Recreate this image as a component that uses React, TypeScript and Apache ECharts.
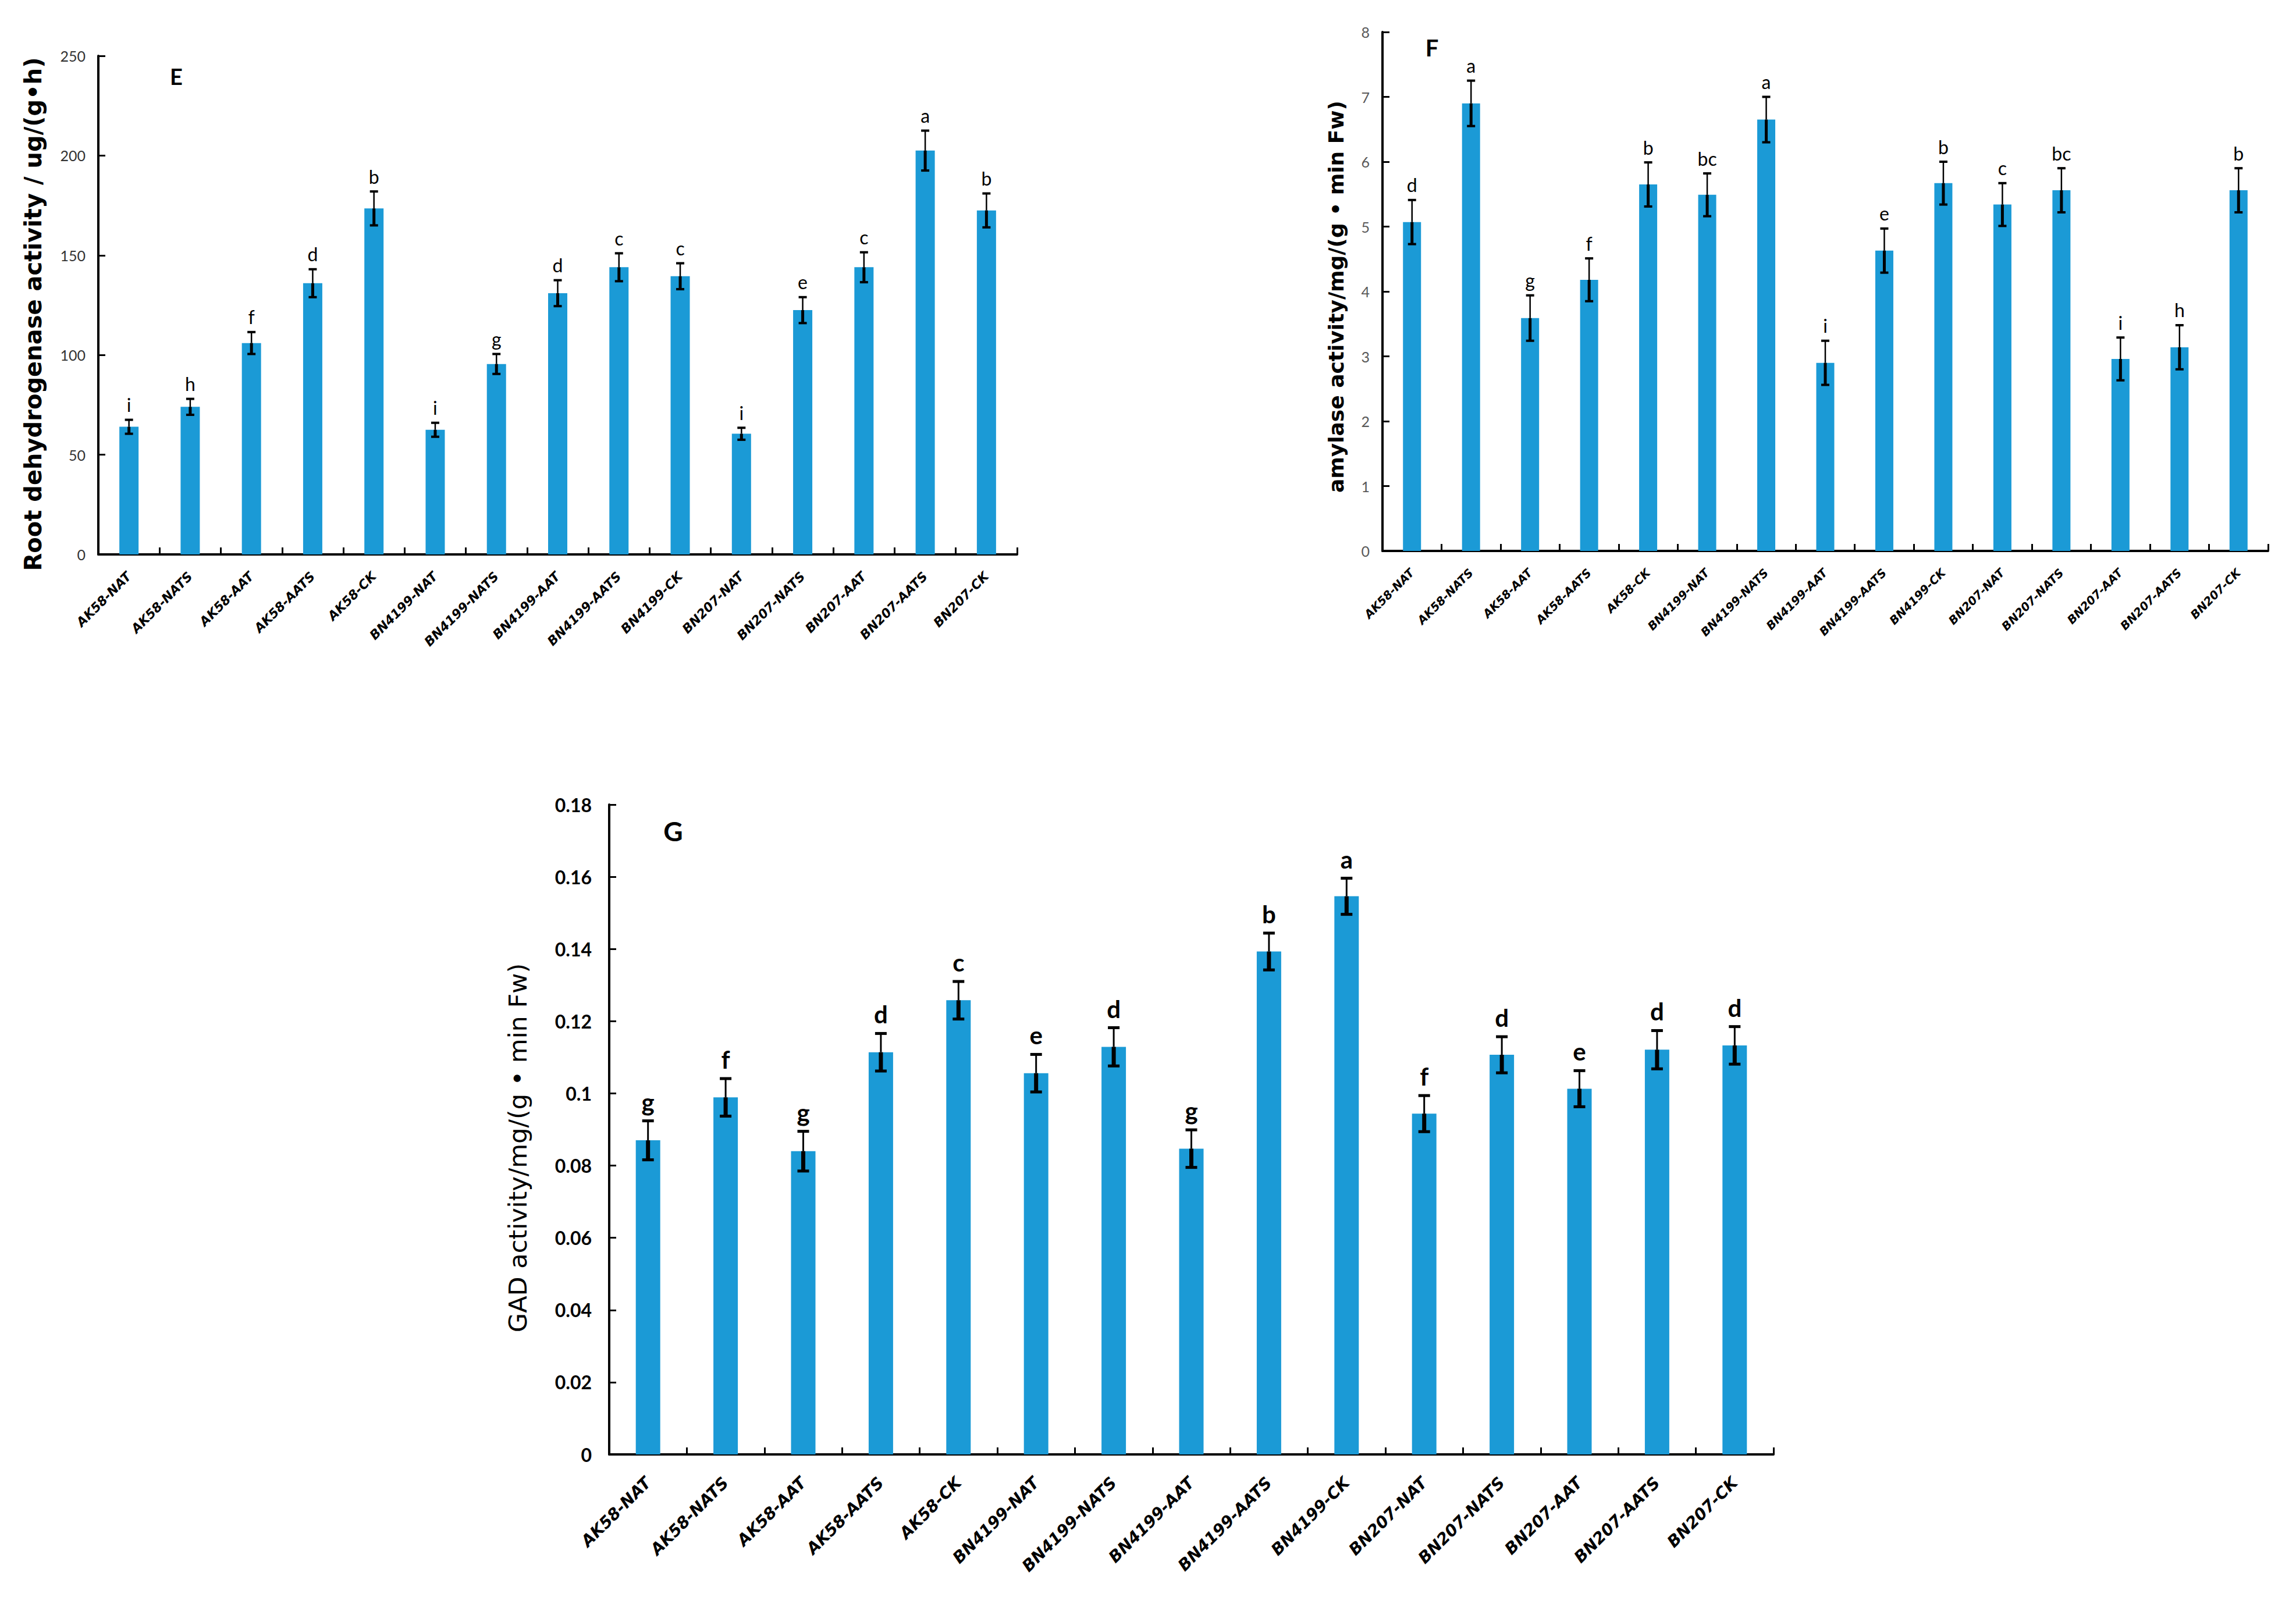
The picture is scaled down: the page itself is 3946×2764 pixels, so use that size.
import React, { useEffect, useRef } from 'react';
import * as echarts from 'echarts';

const categories = [
  'AK58-NAT', 'AK58-NATS', 'AK58-AAT', 'AK58-AATS', 'AK58-CK',
  'BN4199-NAT', 'BN4199-NATS', 'BN4199-AAT', 'BN4199-AATS', 'BN4199-CK',
  'BN207-NAT', 'BN207-NATS', 'BN207-AAT', 'BN207-AATS', 'BN207-CK',
];

const rootValues = [64, 74, 106, 136, 173.5, 62.5, 95.5, 131, 144, 139.5, 60.5, 122.5, 144, 202.5, 172.5];
const rootErrors = [3.5, 4, 5.5, 7, 8.5, 3.5, 5, 6.5, 7, 6.5, 3, 6.5, 7.5, 10, 8.5];
const rootLetters = ['i', 'h', 'f', 'd', 'b', 'i', 'g', 'd', 'c', 'c', 'i', 'e', 'c', 'a', 'b'];
const rootTicks = [0, 50, 100, 150, 200, 250];

const amylaseValues = [5.07, 6.9, 3.59, 4.18, 5.65, 5.49, 6.65, 2.9, 4.63, 5.67, 5.34, 5.56, 2.96, 3.14, 5.56];
const amylaseErrors = [0.34, 0.35, 0.35, 0.33, 0.34, 0.33, 0.35, 0.34, 0.34, 0.33, 0.33, 0.34, 0.33, 0.34, 0.34];
const amylaseLetters = ['d', 'a', 'g', 'f', 'b', 'bc', 'a', 'i', 'e', 'b', 'c', 'bc', 'i', 'h', 'b'];
const amylaseTicks = [0, 1, 2, 3, 4, 5, 6, 7, 8];

const gadValues = [0.087, 0.0989, 0.084, 0.1114, 0.1258, 0.1056, 0.1129, 0.0847, 0.1393, 0.1546, 0.0944, 0.1107, 0.1013, 0.1121, 0.1133];
const gadErrors = [0.0054, 0.0052, 0.0055, 0.0052, 0.0052, 0.0052, 0.0053, 0.0052, 0.0051, 0.005, 0.005, 0.005, 0.005, 0.0053, 0.0052];
const gadLetters = ['g', 'f', 'g', 'd', 'c', 'e', 'd', 'g', 'b', 'a', 'f', 'd', 'e', 'd', 'd'];
const gadTicks = [0, 0.02, 0.04, 0.06, 0.08, 0.1, 0.12, 0.14, 0.16, 0.18];

const BAR_COLOR = '#1B9AD6';

type Panel = {
  values: number[];
  errors: number[];
  letters: string[];
  ticks: number[];
  grid: { left: number; top: number; width: number; height: number };
  barWidth: number;
  tickFont: { size: number; weight: string; color: string; margin: number };
  catFont: { size: number; margin: number };
  letterFont: { size: number; weight: string; gap: number };
  err: { thick: number; thin: number; cap: number; capW: number };
};

const panels: Panel[] = [
  {
    values: rootValues, errors: rootErrors, letters: rootLetters, ticks: rootTicks,
    grid: { left: 169, top: 96, width: 1579, height: 857 },
    barWidth: 33,
    tickFont: { size: 25, weight: 'normal', color: '#333333', margin: 22 },
    catFont: { size: 22, margin: 34 },
    letterFont: { size: 32, weight: 'normal', gap: 10 },
    err: { thick: 5, thin: 2.5, cap: 14, capW: 4 },
  },
  {
    values: amylaseValues, errors: amylaseErrors, letters: amylaseLetters, ticks: amylaseTicks,
    grid: { left: 2376, top: 55, width: 1522, height: 892 },
    barWidth: 31,
    tickFont: { size: 25, weight: 'normal', color: '#595959', margin: 22 },
    catFont: { size: 20, margin: 34 },
    letterFont: { size: 32, weight: 'normal', gap: 10 },
    err: { thick: 5, thin: 2.5, cap: 14, capW: 4 },
  },
  {
    values: gadValues, errors: gadErrors, letters: gadLetters, ticks: gadTicks,
    grid: { left: 1047, top: 1383, width: 2001, height: 1117 },
    barWidth: 42,
    tickFont: { size: 32, weight: 'bold', color: '#000000', margin: 30 },
    catFont: { size: 28, margin: 44 },
    letterFont: { size: 42, weight: 'bold', gap: 12 },
    err: { thick: 7, thin: 3, cap: 20, capW: 5 },
  },
];

const panelLetters = [
  { text: 'E', x: 303, y: 131, size: 38 },
  { text: 'F', x: 2461, y: 82, size: 40 },
  { text: 'G', x: 1157, y: 1428, size: 46 },
];

const yTitles = [
  { text: 'Root dehydrogenase activity / ug/(g•h)', x: 57, y: 540, size: 40, weight: 'bold' },
  { text: 'amylase activity/mg/(g • min Fw)', x: 2296, y: 510, size: 36, weight: 'bold' },
  { text: 'GAD activity/mg/(g • min Fw)', x: 890, y: 1973, size: 43, weight: 'normal' },
];

function buildOption() {
  const grids: any[] = [];
  const xAxes: any[] = [];
  const yAxes: any[] = [];
  const series: any[] = [];

  panels.forEach((p, k) => {
    grids.push({ ...p.grid, containLabel: false, outerBoundsMode: 'none' });
    xAxes.push({
      type: 'category',
      gridIndex: k,
      data: categories,
      boundaryGap: true,
      axisLine: { show: true, lineStyle: { color: '#000', width: 4 } },
      axisTick: { show: true, inside: true, length: 12, lineStyle: { color: '#000', width: 3 }, interval: 0 },
      axisLabel: {
        interval: 0,
        rotate: 45,
        margin: p.catFont.margin,
        fontFamily: 'DejaVu Sans',
        fontStyle: 'italic',
        fontWeight: 'bold',
        fontSize: p.catFont.size,
        color: '#000',
      },
      splitLine: { show: false },
    });
    const tmin = p.ticks[0];
    const tmax = p.ticks[p.ticks.length - 1];
    const step = p.ticks[1] - p.ticks[0];
    yAxes.push({
      type: 'value',
      gridIndex: k,
      min: tmin,
      max: tmax,
      interval: step,
      axisLine: { show: true, lineStyle: { color: '#000', width: 4 } },
      axisTick: { show: true, inside: true, length: 12, lineStyle: { color: '#000', width: 3 } },
      axisLabel: {
        margin: p.tickFont.margin,
        fontFamily: 'Lato',
        fontSize: p.tickFont.size,
        fontWeight: p.tickFont.weight,
        color: p.tickFont.color,
        formatter: (v: number) => String(parseFloat(v.toFixed(4))),
      },
      splitLine: { show: false },
    });
    series.push({
      type: 'bar',
      xAxisIndex: k,
      yAxisIndex: k,
      data: p.values,
      barWidth: p.barWidth,
      itemStyle: { color: BAR_COLOR },
      z: 2,
    });
    const letters = p.letters;
    const st = p.err;
    const lf = p.letterFont;
    series.push({
      type: 'custom',
      xAxisIndex: k,
      yAxisIndex: k,
      data: p.values.map((v, i) => [i, v, p.errors[i]]),
      encode: { x: 0, y: 1 },
      clip: false,
      z: 5,
      renderItem: (params: any, api: any) => {
        const i = api.value(0);
        const v = api.value(1);
        const e = api.value(2);
        const t = api.coord([i, v + e]);
        const m = api.coord([i, v]);
        const b = api.coord([i, v - e]);
        const x = m[0];
        const hw = st.cap / 2;
        return {
          type: 'group',
          children: [
            { type: 'line', shape: { x1: x, y1: b[1], x2: x, y2: m[1] }, style: { stroke: '#000', lineWidth: st.thick } },
            { type: 'line', shape: { x1: x, y1: m[1], x2: x, y2: t[1] }, style: { stroke: '#000', lineWidth: st.thin } },
            { type: 'line', shape: { x1: x - hw, y1: t[1], x2: x + hw, y2: t[1] }, style: { stroke: '#000', lineWidth: st.capW } },
            { type: 'line', shape: { x1: x - hw, y1: b[1], x2: x + hw, y2: b[1] }, style: { stroke: '#000', lineWidth: st.capW } },
            {
              type: 'text',
              x: x,
              y: t[1] - lf.gap,
              style: {
                text: letters[params.dataIndex],
                fill: '#000',
                fontFamily: 'Lato',
                fontSize: lf.size,
                fontWeight: lf.weight,
                align: 'center',
                verticalAlign: 'bottom',
                textAlign: 'center',
                textVerticalAlign: 'bottom',
              },
            },
          ],
        };
      },
    });
  });

  const graphics: any[] = [];
  panelLetters.forEach((pl) => {
    graphics.push({
      type: 'text',
      x: pl.x,
      y: pl.y,
      style: {
        text: pl.text,
        fill: '#000',
        fontFamily: 'Lato',
        fontWeight: 'bold',
        fontSize: pl.size,
        align: 'center',
        verticalAlign: 'middle',
        textAlign: 'center',
        textVerticalAlign: 'middle',
      },
    });
  });
  yTitles.forEach((yt) => {
    graphics.push({
      type: 'text',
      x: yt.x,
      y: yt.y,
      rotation: Math.PI / 2,
      style: {
        text: yt.text,
        fill: '#000',
        fontFamily: 'DejaVu Sans',
        fontWeight: yt.weight,
        fontSize: yt.size,
        align: 'center',
        verticalAlign: 'middle',
        textAlign: 'center',
        textVerticalAlign: 'middle',
      },
    });
  });

  return {
    animation: false,
    backgroundColor: '#ffffff',
    grid: grids,
    xAxis: xAxes,
    yAxis: yAxes,
    series,
    graphic: graphics,
  };
}

export default function App() {
  const ref = useRef<HTMLDivElement>(null);
  useEffect(() => {
    if (!ref.current) return;
    const chart = echarts.init(ref.current, undefined, { renderer: 'svg' });
    chart.setOption(buildOption() as any);
    return () => chart.dispose();
  }, []);
  return (
    <div
      ref={ref}
      style={{ position: 'absolute', left: 0, top: 0, width: 3946, height: 2764, background: '#fff' }}
    />
  );
}
